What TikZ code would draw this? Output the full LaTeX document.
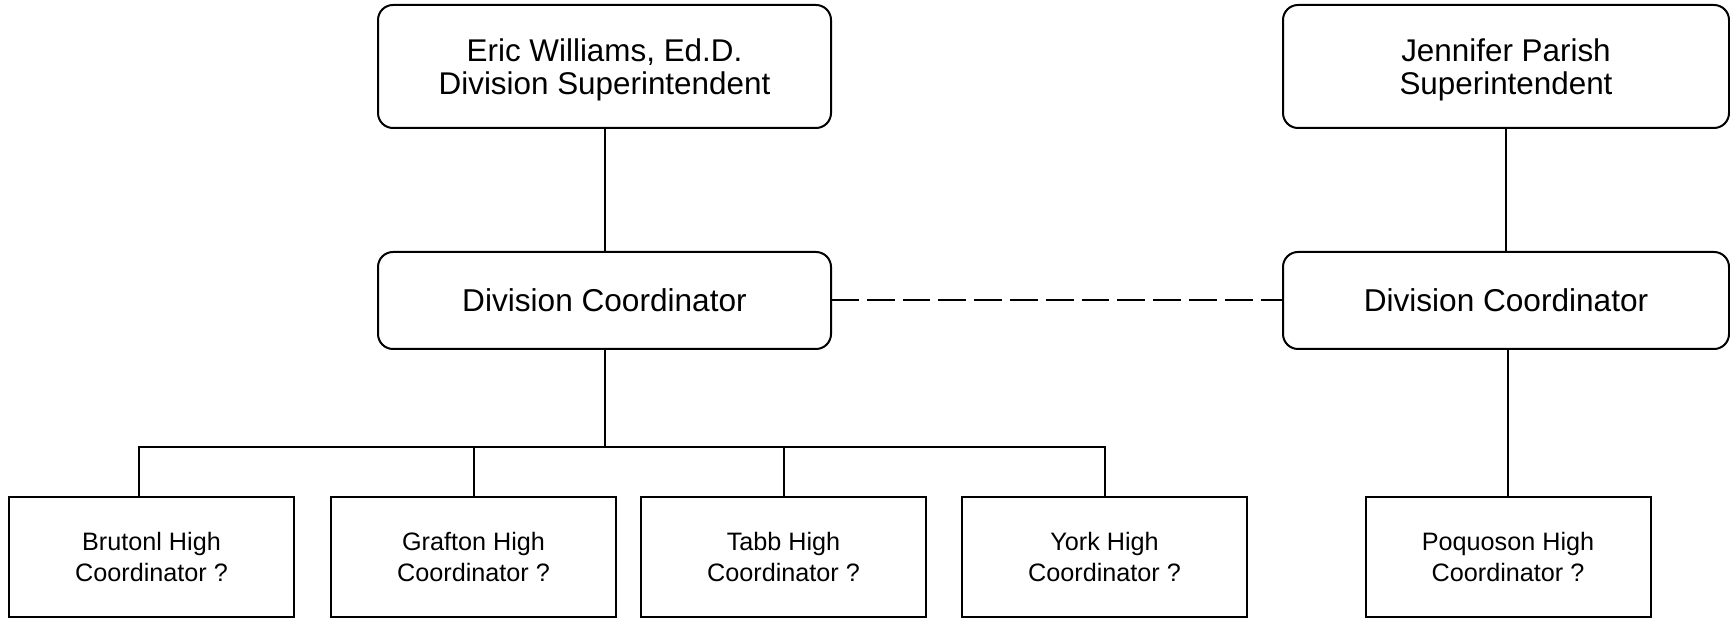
\documentclass[tikz,border=0pt]{standalone}
\usepackage{fontspec}
\setmainfont{Liberation Sans}
\usepackage{tikz}
\usetikzlibrary{calc,positioning}

\tikzset{
	sup/.style={draw,rounded corners=7.5pt,outer sep=0pt,align=center,text depth=0pt,font=\fontsize{15.7}{16.5}\selectfont,minimum height=61.5pt},
	div/.style={draw,rounded corners=7.5pt,outer sep=0pt,font=\fontsize{15.8}{18}\selectfont,minimum height=48.5pt},
	school/.style={draw,outer sep=0pt,align=center,font=\fontsize{12.6}{15.85}\selectfont,minimum width=142.5pt,minimum height=60pt},
}

\begin{document}
\begin{tikzpicture}[line width=1pt]
		\useasboundingbox (0,0) rectangle (865pt,-309.5pt);
		\node(1) [sup,minimum width=226.5pt] at (302.25pt,-33.25pt) {Eric Williams, Ed.D.\\Division Superintendent};
		\node(2) [div,minimum width=226.5pt,below=62pt of 1] {Division Coordinator};
		\node(7) [sup,minimum width=223pt,right=226pt of 1] {Jennifer Parish\\Superintendent};
		\node(8) [div,minimum width=223pt,below=62pt of 7] {Division Coordinator};
		\node(9) [school,below=74pt of 8,xshift=1pt] {Poquoson High\\Coordinator ?};
		\node(3) [school,anchor=north] at ($(2.south)+(-226.5pt,-74pt)$) {Brutonl High\\Coordinator ?};
		\node(4) [school,right=18.5pt of 3] {Grafton High\\Coordinator ?};
		\node(5) [school,right=12.5pt of 4] {Tabb High\\Coordinator ?};
		\node(6) [school,right=18pt of 5] {York High\\Coordinator ?};
		\coordinate(bus) at ($(2.south)+(0,-49pt)$);
		\path
			(1) edge (2)
			(7) edge (8)
			(2) edge (bus)
			(4.north) edge (4.north |- bus)
			(5.north) edge (5.north |- bus)
			(8.south -| 9.north) edge (9.north);
		\draw ([xshift=-6.25pt]3.north) |- (6.north |- bus) -- (6.north);
		\draw [dash pattern=on 13.9pt off 4pt] (2.east) -- (8.west);
	\end{tikzpicture}
\end{document}
